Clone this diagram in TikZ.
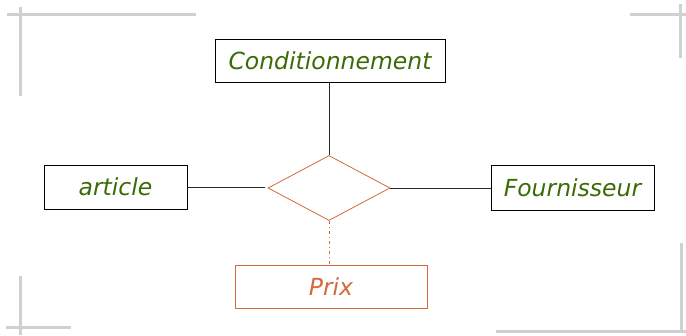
\documentclass[tikz,border=0pt]{standalone}
\usepackage{fontspec}
\setmainfont{DejaVu Sans}
\usetikzlibrary{shapes.geometric}
\definecolor{entgreen}{HTML}{3B6B06}
\definecolor{relorange}{HTML}{D4693A}
\definecolor{framegray}{HTML}{D0D0D0}
\begin{document}
\begin{tikzpicture}[x=1pt,y=-1pt,
  entity/.style={draw=black,line width=0.8pt,rectangle,inner sep=0pt,
    font=\itshape\fontsize{23.5}{26}\selectfont,text=entgreen},
  attrbox/.style={draw=relorange,line width=0.8pt,rectangle,inner sep=0pt,
    font=\itshape\fontsize{23.5}{26}\selectfont,text=relorange},
  relation/.style={draw=relorange,line width=0.8pt,diamond,inner sep=0pt},
  link/.style={draw=black!85,line width=0.8pt},
  frame/.style={draw=framegray,line width=3pt}]
\useasboundingbox (0,0) rectangle (686,335);
% corner marks of the frame
\draw[frame] (7,14) -- (196,14);
\draw[frame] (20,7) -- (20,96);
\draw[frame] (630,14) -- (686,14);
\draw[frame] (680,4) -- (680,58);
\draw[frame] (20,276) -- (20,335);
\draw[frame] (6,327) -- (71,327);
\draw[frame] (681,243) -- (681,333);
\draw[frame] (496,331) -- (686,331);
% entities
\node[entity,minimum width=230pt,minimum height=43pt] (cond) at (330,60.5) {Conditionnement};
\node[entity,minimum width=143pt,minimum height=44pt] (art) at (115.5,187) {article};
\node[entity,minimum width=163pt,minimum height=45pt] (four) at (572.5,187.5) {Fournisseur};
% relationship
\node[relation,minimum width=122pt,minimum height=65pt] (rel) at (329,188) {};
\node[attrbox,minimum width=192pt,minimum height=43pt] (prix) at (331,286.5) {Prix};
% links
\draw[link] (cond.south -| rel.north) -- (rel.north);
\draw[link] (art.east) -- ([xshift=-3pt]art.east -| rel.west);
\draw[link] (rel.east) -- (rel.east -| four.west);
\draw[draw=relorange,line width=0.8pt,dash pattern=on 3pt off 3pt on 1pt off 3pt] (rel.south) -- (rel.south |- prix.north);
\end{tikzpicture}
\end{document}
